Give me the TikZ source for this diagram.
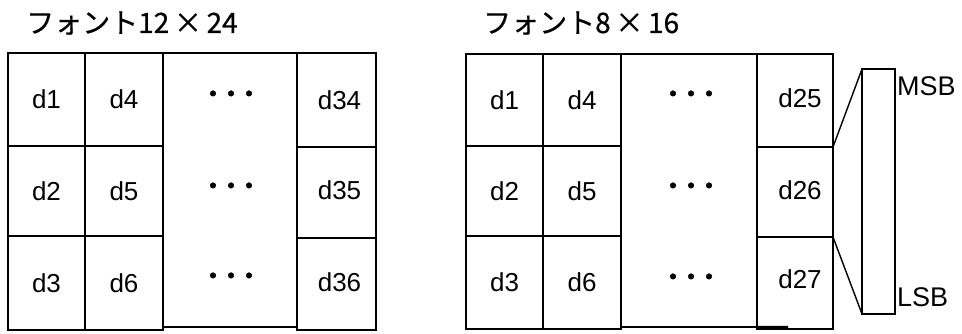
\documentclass[tikz,border=0pt]{standalone}
\usepackage{fontspec}
\setmainfont{Liberation Sans}
\newfontfamily\jpfont[FakeBold=0.6]{Noto Sans CJK JP}
\newfontfamily\dotfont[FakeBold=2]{Noto Sans CJK JP}
\usetikzlibrary{calc}
\tikzset{
  gridline/.style={line width=1.6bp, black},
  cellbox/.style={draw, gridline, inner sep=0pt, outer sep=0pt},
  celltext/.style={inner sep=0pt, font=\fontsize{26bp}{30bp}\selectfont},
  dotstext/.style={inner sep=0pt, font=\dotfont\fontsize{26bp}{30bp}\selectfont},
  titletext/.style={inner sep=0pt, anchor=west, font=\jpfont\fontsize{28bp}{32bp}\selectfont},
  bittext/.style={inner sep=0pt, anchor=west, font=\fontsize{27bp}{30bp}\selectfont},
  leader/.style={line width=1.4bp, black}
}
\newcommand\mkcell[6]{% name, cx, cy, w, h, text
  \node[cellbox, minimum width=#4bp, minimum height=#5bp] (#1) at (#2,#3) {};
  \node[celltext] (#1t) at (#1) {#6};
}
\newcommand\tridots{・\hspace{-8bp}・\hspace{-8bp}・}
\begin{document}
\begin{tikzpicture}[x=1bp,y=-1bp]
\useasboundingbox (0,0) rectangle (962,333);
% ---------- titles ----------
\node[titletext] (t1) at (26,23) {フォント12\,×\,24};
\node[titletext] (t2) at (483,23) {フォント8\,×\,16};
% ---------- left block (12x24) ----------
\mkcell{L1}{46.5}{99.5}{77}{93}{d1}
\mkcell{L2}{46.5}{191}{77}{90}{d2}
\mkcell{L3}{46.5}{283}{77}{94}{d3}
\mkcell{L4}{124}{99.5}{78}{93}{d4}
\mkcell{L5}{124}{191}{78}{90}{d5}
\mkcell{L6}{124}{283}{78}{94}{d6}
\node[cellbox, minimum width=134bp, minimum height=274bp] (LM) at (230,190) {};
\node[dotstext] (LMa) at (231,97) {\tridots};
\node[dotstext] (LMb) at (231,189) {\tridots};
\node[dotstext] (LMc) at (231,279) {\tridots};
\node[cellbox, minimum width=79bp, minimum height=94bp] (L34) at (336.5,100) {};
\node[celltext] (L34t) at ($(L34)+(3,0)$) {d34};
\node[cellbox, minimum width=79bp, minimum height=91bp] (L35) at (336.5,192.5) {};
\node[celltext] (L35t) at ($(L35)+(3,-2)$) {d35};
\node[cellbox, minimum width=79bp, minimum height=92bp] (L36) at (336.5,284) {};
\node[celltext] (L36t) at ($(L36)+(3,-2)$) {d36};
% ---------- right block (8x16) ----------
\mkcell{R1}{504.5}{100}{77}{92}{d1}
\mkcell{R2}{504.5}{191}{77}{90}{d2}
\mkcell{R3}{504.5}{282.5}{77}{93}{d3}
\mkcell{R4}{582}{100}{78}{92}{d4}
\mkcell{R5}{582}{191}{78}{90}{d5}
\mkcell{R6}{582}{282.5}{78}{93}{d6}
\node[cellbox, minimum width=136bp, minimum height=273bp] (RM) at (689,190.5) {};
\node[dotstext] (RMa) at (691,97) {\tridots};
\node[dotstext] (RMb) at (691,189) {\tridots};
\node[dotstext] (RMc) at (691,280) {\tridots};
\node[cellbox, minimum width=76bp, minimum height=93bp] (R25) at (795,100.5) {};
\node[celltext] (R25t) at ($(R25)+(5,-2)$) {d25};
\node[cellbox, minimum width=76bp, minimum height=90bp] (R26) at (795,192) {};
\node[celltext] (R26t) at ($(R26)+(5,-2)$) {d26};
\node[cellbox, minimum width=76bp, minimum height=92bp] (R27) at (795,283) {};
\node[celltext] (R27t) at ($(R27)+(5,-4)$) {d27};
\coordinate (ext) at (788,327);
\draw[line width=2.4bp] (R27.south west |- RM.south) -- (ext);
% ---------- bit bar ----------
\node[cellbox, minimum width=33bp, minimum height=245bp] (bar) at (878.5,191.5) {};
\draw[leader] (R25.south east) -- (bar.north west);
\draw[leader] (R26.south east) -- (bar.south west);
\node[bittext] (msb) at (897,86) {MSB};
\node[bittext] (lsb) at (897,297) {LSB};
\end{tikzpicture}
\end{document}
